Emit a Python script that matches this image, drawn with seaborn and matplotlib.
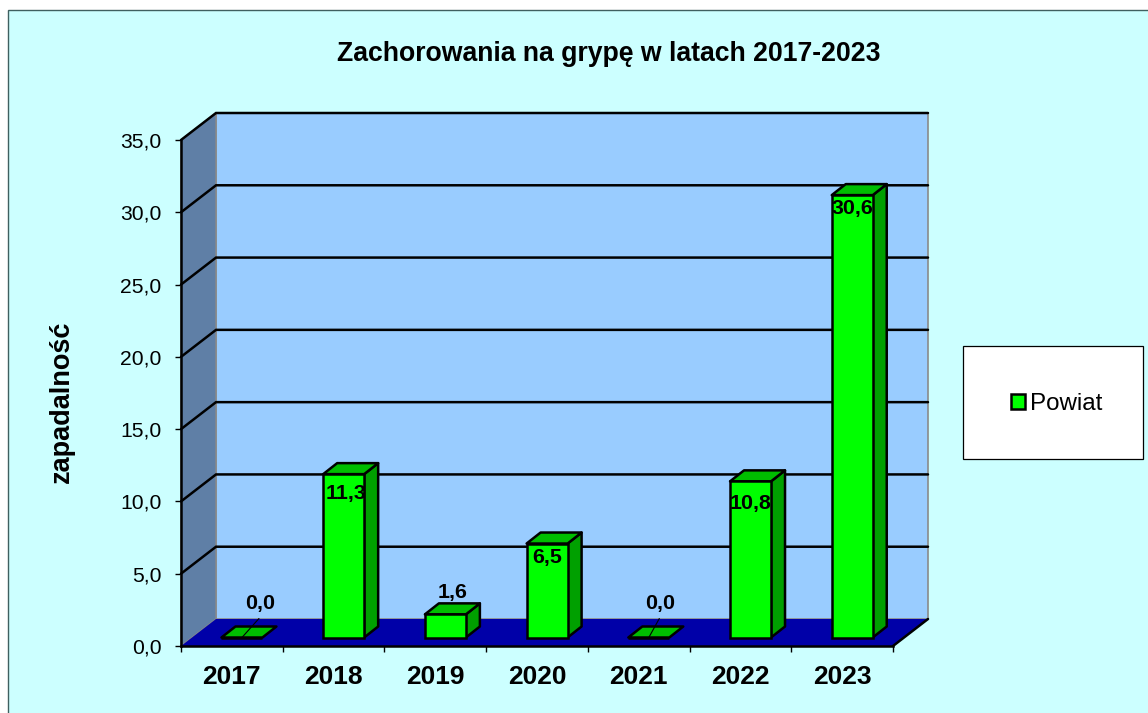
import matplotlib
matplotlib.use("Agg")
import matplotlib.pyplot as plt
import seaborn as sns
import pandas as pd
from matplotlib.patches import Polygon, Rectangle, Patch
from matplotlib.transforms import Affine2D, IdentityTransform

years = ["2017", "2018", "2019", "2020", "2021", "2022", "2023"]
values = [0.0, 11.3, 1.6, 6.5, 0.0, 10.8, 30.6]
value_labels = ["0,0", "11,3", "1,6", "6,5", "0,0", "10,8", "30,6"]
y_ticks = [0, 5, 10, 15, 20, 25, 30, 35]
y_tick_labels = ["0,0", "5,0", "10,0", "15,0", "20,0", "25,0", "30,0", "35,0"]
series_name = "Powiat"

W, H = 1148, 713
sns.set_theme(style="white")
plt.rcParams["font.family"] = ["Liberation Sans", "DejaVu Sans"]

fig = plt.figure(figsize=(W / 100, H / 100), dpi=100, facecolor="white")
ax = fig.add_axes([181 / W, 1 - 646 / H, 712 / W, 506 / H])
ax.patch.set_visible(False)

# Chart background and frame (run off the right and bottom of the image)
fig.patches.append(Rectangle((8.3, -20), W + 20, H + 20 - 10.3, transform=IdentityTransform(),
                             facecolor="#CCFFFF", edgecolor="#3F6060", linewidth=1.0, figure=fig, zorder=-2))
# Legend box
fig.patches.append(Rectangle((963.2, H - 458.7), 179.3, 112.4, transform=IdentityTransform(),
                             facecolor="white", edgecolor="black", linewidth=0.9, figure=fig, zorder=-1))

df = pd.DataFrame({"rok": years, "zapadalnosc": values})
sns.barplot(data=df, x="rok", y="zapadalnosc", color="#00FF00", saturation=1, width=0.403,
            edgecolor="black", linewidth=1.8, ax=ax, zorder=4, err_kws={"linewidth": 0})
ax.set_xlim(-0.5, len(years) - 0.5)
ax.set_ylim(0, 35)

WALL_DX, WALL_DY = 35, 27      # depth of the 3D box, px
BAR_DX, BAR_DY = 10.1, 8.5     # bars stand inside the box
DEPTH_DX, DEPTH_DY = 14, 11    # depth of a bar
LABEL_FS = 15.4


def disp(x, y, dx=0.0, dy=0.0):
    px, py = ax.transData.transform((x, y))
    return (px + dx, py + dy)


def poly(points, fc, ec="none", lw=0.0, z=1.0):
    ax.add_patch(Polygon(points, closed=True, transform=IdentityTransform(), facecolor=fc,
                         edgecolor=ec, linewidth=lw, clip_on=False, zorder=z, joinstyle="round"))


x0, x1 = ax.get_xlim()
y0, y1 = ax.get_ylim()
bars = [p for p in ax.patches if isinstance(p, Rectangle)]

# Walls and floor
poly([disp(x0, y0, WALL_DX, WALL_DY), disp(x1, y0, WALL_DX, WALL_DY),
      disp(x1, y1, WALL_DX, WALL_DY), disp(x0, y1, WALL_DX, WALL_DY)], "#99CCFF", "#8A8A8A", 1.2, 0.5)
poly([disp(x0, y0), disp(x0, y0, WALL_DX, WALL_DY), disp(x0, y1, WALL_DX, WALL_DY), disp(x0, y1)],
     "#5F7FA6", "#8A8A8A", 1.0, 0.6)
poly([disp(x0, y0), disp(x1, y0), disp(x1, y0, WALL_DX, WALL_DY), disp(x0, y0, WALL_DX, WALL_DY)],
     "#0000A8", "none", 0, 0.7)

# Gridlines on both walls
for t in y_ticks[1:]:
    a, b, c = disp(x0, t), disp(x0, t, WALL_DX, WALL_DY), disp(x1, t, WALL_DX, WALL_DY)
    ax.plot([a[0], b[0], c[0]], [a[1], b[1], c[1]], color="black", lw=1.8,
            transform=IdentityTransform(), clip_on=False, zorder=1, solid_joinstyle="miter")
# Floor right edge
a, b = disp(x1, y0), disp(x1, y0, WALL_DX, WALL_DY)
ax.plot([a[0], b[0]], [a[1], b[1]], color="black", lw=1.8, transform=IdentityTransform(),
        clip_on=False, zorder=1)

# Shift the bar fronts into the box and add the side and top faces
shift = Affine2D().translate(BAR_DX, BAR_DY)
for bar in bars:
    bx, bw, bh = bar.get_x(), bar.get_width(), bar.get_height()
    bar.set_transform(ax.transData + shift)
    bar.set_zorder(4)
    dx, dy = BAR_DX, BAR_DY
    ddx, ddy = BAR_DX + DEPTH_DX, BAR_DY + DEPTH_DY
    if bh > 0:
        poly([disp(bx + bw, 0, dx, dy), disp(bx + bw, 0, ddx, ddy),
              disp(bx + bw, bh, ddx, ddy), disp(bx + bw, bh, dx, dy)],
             "#00A000", "black", 1.8, 3.5)
    poly([disp(bx, bh, dx, dy), disp(bx + bw, bh, dx, dy),
          disp(bx + bw, bh, ddx, ddy), disp(bx, bh, ddx, ddy)],
         "#00BE00", "black", 1.8, 3.6)

# Axis styling
for s in ["top", "right"]:
    ax.spines[s].set_visible(False)
for s in ["left", "bottom"]:
    ax.spines[s].set_color("black")
    ax.spines[s].set_linewidth(1.8)
    ax.spines[s].set_zorder(2)

ax.set_yticks(y_ticks)
ax.set_yticklabels(y_tick_labels, fontsize=15.2, color="black")
ax.tick_params(axis="y", length=4.5, width=1.0, color="black", pad=9.7, left=True)

ax.set_xticks(range(len(years)))
ax.set_xticklabels(years, fontsize=19.0, fontweight="bold", color="black")
ax.tick_params(axis="x", which="major", length=0, pad=13.8)
ax.set_xticks([i - 0.5 for i in range(len(years) + 1)], minor=True)
ax.tick_params(axis="x", which="minor", length=4.5, width=1.0, color="black", bottom=True)

ax.set_xlabel("")
ax.set_ylabel("zapadalność", fontsize=19.5, fontweight="bold", color="black", va="center")
ax.yaxis.set_label_coords((62 - 181) / 712, 0.482)

fig.text(608.5 / W, 1 - 54 / H, "Zachorowania na grypę w latach 2017-2023", ha="center", va="center",
         fontsize=19.2, fontweight="bold", color="black")

# Data labels: pixel offsets from the top of each bar's front face
label_offsets = {0: (18, 34), 1: (2, -19), 2: (7, 22), 3: (0, -14), 4: (11.5, 34), 5: (0, -22), 6: (0, -13)}
for i, (v, lab) in enumerate(zip(values, value_labels)):
    ox, oy = label_offsets[i]
    ax.annotate(lab, (i, v), xytext=(BAR_DX + ox, BAR_DY + oy), textcoords="offset pixels",
                ha="center", va="center", fontsize=LABEL_FS, fontweight="bold", color="black",
                zorder=6, annotation_clip=False)
    if v == 0:
        p = disp(i, 0, BAR_DX, BAR_DY)
        ax.plot([p[0], p[0] + ox - 1], [p[1], p[1] + 19], color="black", lw=0.8,
                transform=IdentityTransform(), clip_on=False, zorder=5)

# Legend
handle = Patch(facecolor="#00FF00", edgecolor="black", linewidth=1.8, label=series_name)
leg = ax.legend(handles=[handle], loc="center", bbox_to_anchor=(1056.5 / W, 1 - 404 / H),
                bbox_transform=fig.transFigure, frameon=False, fontsize=17.4,
                handlelength=0.58, handleheight=0.58, handletextpad=0.22,
                borderpad=0, labelcolor="black")
leg.set_zorder(6)

fig.savefig("out.png", dpi=100, facecolor=fig.get_facecolor())
